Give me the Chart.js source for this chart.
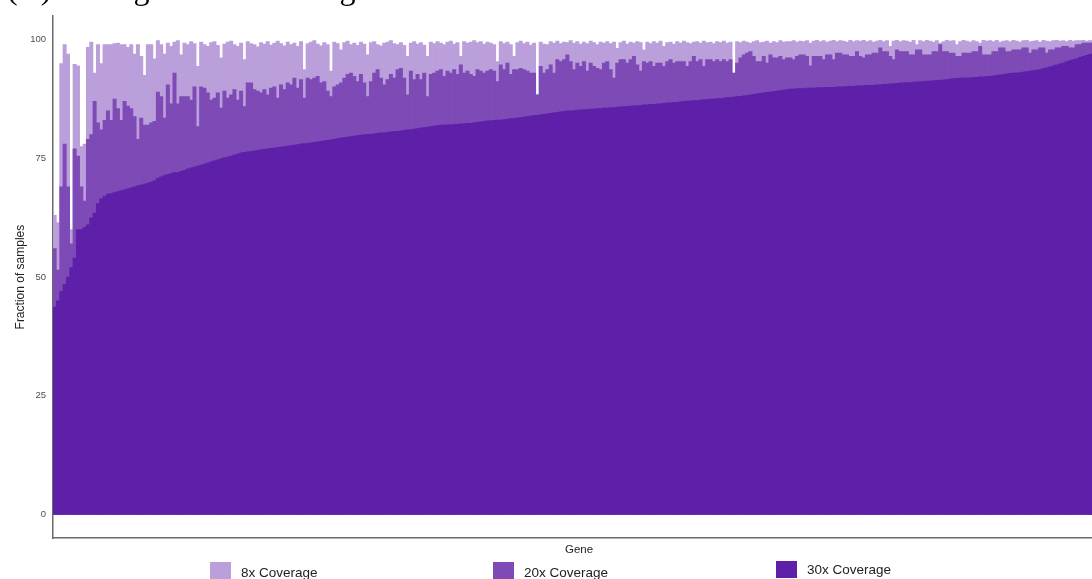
<!DOCTYPE html>
<html>
<head>
<meta charset="utf-8">
<script src="https://cdn.jsdelivr.net/npm/chart.js@4.4.1/dist/chart.umd.min.js"></script>
<style>
  html, body { margin: 0; padding: 0; background: #fff; }
  #wrap { position: relative; width: 1092px; height: 579px; overflow: hidden; }
  #chart { position: absolute; left: 0; top: 0; }
  #title { position: absolute; left: 7px; top: -28px; font-family: "Liberation Serif", serif; font-size: 32px; line-height: 32px; white-space: nowrap; color: #000; }
  .leg { position: absolute; font-family: "Liberation Sans", Arial, sans-serif; font-size: 13.5px; color: #222; white-space: nowrap; }
  .leg .box { position: absolute; left: 0; width: 21px; height: 17px; }
  .leg .txt { position: absolute; left: 31px; }
</style>
</head>
<body>
<div id="wrap">
  <canvas id="chart" width="1105" height="579"></canvas>
  <div id="title">(A) Average Gene Coverage</div>
  <div class="leg" style="left:210px;top:562px"><span class="box" style="background:#BA9FDB"></span><span class="txt" style="top:3px">8x Coverage</span></div>
  <div class="leg" style="left:493px;top:562px"><span class="box" style="background:#7D4AB6"></span><span class="txt" style="top:3px">20x Coverage</span></div>
  <div class="leg" style="left:776px;top:561px"><span class="box" style="background:#5E1FA9"></span><span class="txt" style="top:1px">30x Coverage</span></div>
</div>
<script>
// fraction of samples reaching each depth, genes sorted by 30x coverage
// (the figure is cropped on the right, the last few genes sit past the edge)
const cov8 = [
  63,61.5,95,99,97,60,94.8,94.5,77.5,78,98.4,99.5,93,99,95,99,99,99,99.2,99.3,
  99,99,98.4,99,97,99,96.5,92.5,99,99,96,99.8,99,97,99.3,98.6,99.5,99.8,
  96.8,99.3,99.0,99.6,99.2,94.4,99.5,99.0,98.6,99.4,
  99.6,98.8,96.2,99.1,99.5,99.7,99.0,98.6,99.3,95.8,
  99.6,99.2,99.0,98.5,99.4,99.1,99.6,98.9,99.3,99.7,
  99.2,98.7,99.5,99.0,99.3,98.6,99.6,93.7,99.2,99.5,
  99.8,99.1,98.7,99.4,99.0,93.4,99.5,99.2,97.9,99.4,
  99.7,99.0,99.3,98.8,99.5,99.1,96.8,99.4,99.6,99.0,
  98.7,99.3,99.5,99.8,99.2,99.0,99.4,98.8,96.5,99.3,
  99.6,99.1,99.4,98.9,96.5,99.5,99.2,99.6,99.3,99.0,
  99.5,99.7,99.1,99.4,96.5,99.6,99.3,99.5,99.8,
  99.4,99.6,99.1,99.5,99.3,99.0,95.4,99.6,99.2,99.5,
  99.0,96.5,99.4,99.7,99.2,99.5,98.9,99.3,88.4,99.5,
  99.1,99.0,99.6,99.3,99.7,99.2,99.5,99.4,99.8,99.3,
  99.6,99.1,99.5,99.2,99.7,99.4,99.0,99.5,99.3,99.6,
  99.2,99.5,98.2,99.4,99.7,99.1,99.5,99.3,99.6,99.4,
  97.9,99.5,99.2,99.6,99.3,99.7,98.6,99.4,99.5,99.1,
  99.6,99.3,99.7,99.4,99.2,99.5,99.6,99.3,99.7,99.4,
  99.5,99.2,99.6,99.4,99.7,99.3,99.5,93.0,99.6,99.4,
  99.7,99.5,99.3,99.6,99.8,99.4,99.5,99.7,99.3,99.6,
  99.4,99.8,99.5,99.6,
  99.6,99.8,99.5,99.7,99.6,99.8,99.3,99.7,99.9,99.6,
  99.8,99.5,99.7,99.9,99.6,99.8,99.7,99.5,99.9,99.6,
  99.8,99.7,99.9,99.6,99.8,99.5,99.7,99.9,99.6,99.8,
  98.6,99.7,99.9,99.6,99.8,99.7,99.5,99.9,99.0,99.8,
  99.6,99.9,99.7,99.5,99.8,99.3,99.6,99.9,99.7,99.8,
  99.0,99.6,99.9,99.7,99.5,99.8,99.6,99.3,99.9,99.7,
  99.8,99.6,99.9,99.5,99.7,99.8,99.6,99.9,99.7,99.5,
  99.8,99.9,99.6,99.7,99.8,99.5,99.9,99.7,99.6,99.8,
  99.9,99.7,99.8,99.6,99.9,99.7,99.8,99.8,99.9,99.7,99.8,
  99.8,99.9,99.8,99.9
];

const cov20 = [
  56,51.5,69,78,69,57,77,75.5,69,66,79,80,87,82.5,81,83,85,83,87.5,85.5,
  83,87,86,85.5,83.8,79,83.5,82,82,82.5,82.8,89,88,83.5,90.5,86.5,93,86.5,
  88.0,88.0,88.0,87.3,90.1,81.7,90.1,89.8,88.8,87.3,
  87.7,88.8,85.6,89.2,87.7,88.4,89.5,87.3,89.2,85.9,
  90.9,90.9,89.5,89.2,88.8,89.5,88.4,89.8,90.1,87.7,
  90.5,89.5,90.9,90.5,91.9,89.8,91.6,87.7,91.9,91.6,
  91.9,92.3,90.9,91.2,89.2,88.0,90.1,90.5,90.9,91.9,
  92.7,93.0,92.3,91.2,92.7,90.9,88.0,91.2,93.0,93.7,
  91.9,90.5,91.6,92.7,91.9,93.7,94.0,91.9,88.4,93.4,
  91.6,92.7,91.6,93.0,88.0,92.7,93.0,93.4,93.7,92.3,
  93.4,93.0,93.7,92.7,94.7,93.0,93.4,92.7,92.3,
  93.7,93.4,93.0,93.4,93.7,93.4,91.2,94.7,93.7,95.1,
  92.7,93.7,93.7,94.0,93.7,93.4,93.0,93.0,88.4,94.4,
  93.0,93.7,94.7,93.0,95.8,95.4,95.8,96.8,95.4,93.7,
  95.1,94.4,95.4,93.4,95.1,94.4,94.0,93.7,95.1,95.4,
  93.7,91.9,95.1,95.8,95.8,95.1,95.8,96.5,94.7,93.4,
  95.4,95.1,95.4,94.4,95.1,95.1,94.4,95.4,95.8,95.1,
  95.4,95.4,95.4,94.4,95.4,96.5,95.4,95.8,94.4,95.8,
  95.8,95.4,95.8,95.4,95.8,95.4,95.8,93.0,95.1,96.2,
  96.8,97.2,97.5,96.5,95.4,95.4,96.5,95.1,96.8,96.2,
  96.2,96.5,95.8,96.2,
  96.2,95.8,96.5,
  96.8,96.8,96.5,94.5,96.5,96.5,96.5,95.8,96.8,96.8,
  95.8,97.2,97.2,96.8,96.8,96.5,96.5,97.5,96.5,96.2,
  96.8,96.8,97.2,97.2,98.3,97.5,97.5,96.5,95.8,97.9,
  97.5,97.5,97.5,96.8,96.8,97.9,97.9,96.8,96.8,96.8,
  97.5,97.5,99.0,97.5,97.5,97.2,97.2,96.5,96.5,97.2,
  97.2,97.2,97.5,97.5,98.6,96.8,96.8,96.8,97.5,97.5,
  98.3,98.3,97.5,97.5,97.9,97.9,97.9,98.3,98.3,97.2,
  97.9,97.9,98.3,98.3,97.2,97.9,97.9,98.3,98.3,98.6,
  98.6,98.3,98.3,99.0,99.0,99.3,99.3,99.3,
  99.3,99.4,99.4,99.5
];

const cov30 = [
  43.7,45,47,48.5,50,52,54,60,60,60.5,61,62.5,63.5,65.5,66.5,67,67.5,67.6,67.8,68,
  68.2,68.4,68.6,68.8,69,69.2,69.4,69.6,69.8,70,70.3,70.8,71.1,71.4,71.6,71.8,72,72,
  72.3,72.5,72.8,73.0,73.2,73.4,73.6,73.8,74.0,
  74.3,74.5,74.7,74.9,75.1,75.3,75.5,75.7,75.9,76.2,
  76.3,76.4,76.5,76.6,76.7,76.8,76.9,77.0,77.1,77.2,
  77.3,77.4,77.5,77.6,77.7,77.8,77.9,78.0,78.1,78.2,
  78.3,78.4,78.5,78.6,78.7,78.8,78.9,79.0,79.2,79.3,
  79.4,79.5,79.6,79.7,79.8,79.9,80.0,80.1,80.1,80.2,
  80.3,80.4,80.4,80.5,80.6,80.7,80.7,80.8,80.9,81.0,
  81.1,81.2,81.3,81.4,81.5,81.6,81.7,81.8,81.9,82.0,
  82.0,82.1,82.1,82.2,82.2,82.3,82.3,82.4,82.4,82.5,
  82.6,82.7,82.8,82.9,82.9,83.0,83.1,83.1,83.2,83.3,83.4,83.4,83.5,83.6,83.7,
  83.8,83.9,84.0,84.1,84.2,84.3,84.4,84.5,84.6,84.7,84.8,84.9,85.0,85.0,85.1,85.2,
  85.2,85.3,85.3,85.4,85.4,85.5,85.5,85.6,85.6,85.7,85.7,85.8,85.8,85.9,85.9,86.0,
  86.1,86.1,86.2,86.3,86.3,86.4,86.4,86.5,86.5,86.6,86.7,86.7,86.8,86.8,86.9,87.0,
  87.1,87.1,87.2,87.2,87.3,87.4,87.4,87.5,87.5,87.6,87.6,87.7,87.8,87.8,87.9,88.0,
  88.1,88.2,88.3,88.4,88.5,88.6,88.7,88.8,88.9,89.0,89.1,89.2,89.3,89.4,89.5,
  89.6,89.6,89.7,89.7,89.7,89.8,89.8,89.8,89.9,89.9,89.9,90.0,90.0,90.0,90.1,90.1,90.1,
  90.2,90.2,90.2,90.3,90.3,90.3,90.4,90.4,90.4,90.5,90.5,90.6,90.6,90.7,90.7,90.8,90.9,
  90.9,91.0,91.0,91.1,91.1,91.2,91.2,91.3,91.3,91.4,91.4,91.5,91.5,91.6,91.7,
  91.8,91.8,91.9,91.9,92.0,92.0,92.1,92.1,92.2,92.2,92.3,92.3,92.4,92.5,92.6,
  92.7,92.8,92.9,93.0,93.0,93.1,93.2,93.3,93.4,93.5,93.6,93.7,93.9,94.1,
  94.3,94.5,94.7,94.9,95.1,95.4,95.6,95.8,96.0,96.3,96.5,96.7,96.9,
  97.1,97.3,97.5,97.7
];

const genes = cov30.map((v, i) => "Gene " + (i + 1));
const yTicks = [0, 25, 50, 75, 100];

const colors = {
  c8: "#BA9FDB",
  c20: "#7D4AB6",
  c30: "#5E1FA9",
};

const ctx = document.getElementById("chart").getContext("2d");
new Chart(ctx, {
  type: "bar",
  data: {
    labels: genes,
    datasets: [
      { label: "8x Coverage", data: cov8, backgroundColor: colors.c8, order: 3 },
      { label: "20x Coverage", data: cov20, backgroundColor: colors.c20, order: 2 },
      { label: "30x Coverage", data: cov30, backgroundColor: colors.c30, order: 1 },
    ],
  },
  options: {
    responsive: false,
    animation: false,
    layout: { padding: { top: 16, right: 0, bottom: 19, left: 0 } },
    datasets: {
      bar: { barPercentage: 1, categoryPercentage: 1, borderWidth: 0 },
    },
    plugins: {
      legend: { display: false },
      tooltip: { enabled: false },
    },
    scales: {
      x: {
        stacked: true,
        grid: { display: false, drawTicks: false },
        border: { display: true, color: "#6b6b6b", width: 1.5 },
        ticks: { display: false },
        title: {
          display: true,
          text: "Gene",
          color: "#222",
          font: { family: "Liberation Sans, Arial, sans-serif", size: 11.5 },
          padding: { top: 5, bottom: 3 },
        },
      },
      y: {
        stacked: false,
        min: -5,
        max: 105,
        afterBuildTicks: (scale) => {
          scale.ticks = yTicks.map((v) => ({ value: v }));
        },
        afterFit: (scale) => {
          scale.width = 53;
        },
        grid: { display: false, drawTicks: false },
        border: { display: true, color: "#6b6b6b", width: 1.5 },
        ticks: {
          padding: 7,
          color: "#4d4d4d",
          font: { family: "Liberation Sans, Arial, sans-serif", size: 9.5 },
        },
        title: {
          display: true,
          text: "Fraction of samples",
          color: "#222",
          font: { family: "Liberation Sans, Arial, sans-serif", size: 12 },
          padding: { top: 13, bottom: 0 },
        },
      },
    },
  },
});
</script>
</body>
</html>
